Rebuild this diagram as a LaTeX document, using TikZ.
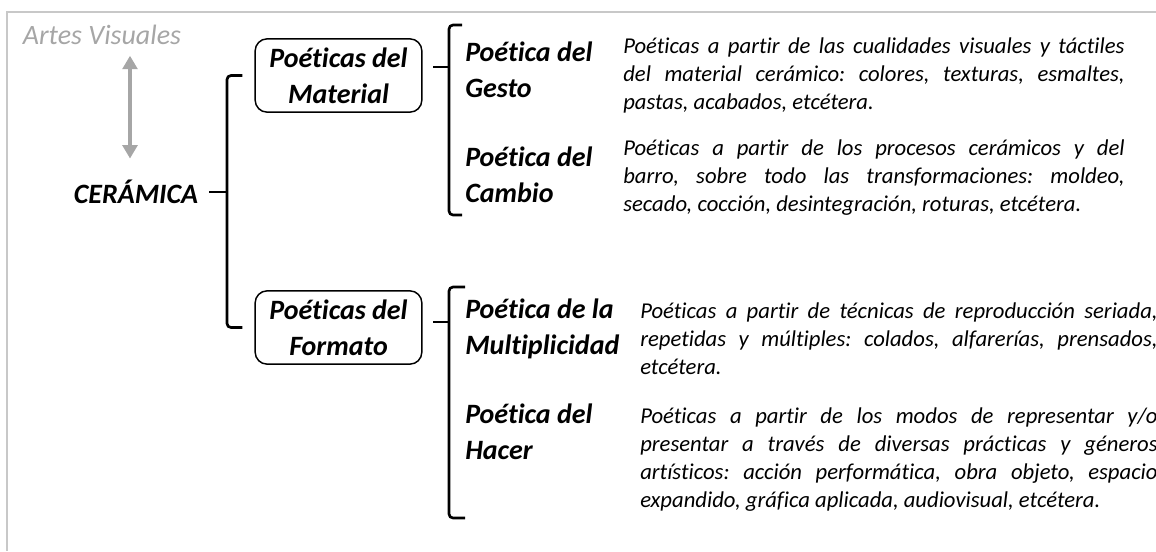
\documentclass[tikz,border=0pt]{standalone}
\usepackage{fontspec}
\setmainfont{Carlito}[Ligatures=NoCommon]
\usepackage{tikz}
\usetikzlibrary{arrows.meta,positioning,calc}

\definecolor{framegray}{HTML}{C8C8C8}
\definecolor{artgray}{HTML}{A6A6A6}
\frenchspacing

\begin{document}
\begin{tikzpicture}[
    x=0.75pt, y=-0.75pt,
    big/.style={font=\fontsize{21}{27}\selectfont\bfseries\itshape},
    cat/.style={big, draw, rounded corners=9pt, line width=1.1pt, align=center, minimum width=125pt, minimum height=55pt, inner sep=0pt},
    tit/.style={big, align=left, anchor=west, inner sep=0pt},
    desc/.style={font=\fontsize{17}{21}\selectfont\itshape, align=justify, anchor=west, inner sep=0pt},
    brk/.style={line width=2pt, rounded corners=3pt},
    dbl/.style={{Triangle[length=10pt,width=11pt]}-{Triangle[length=10pt,width=11pt]}, draw=artgray, fill=artgray, line width=2.5pt}
]
\useasboundingbox (0,0) rectangle (1156,551);
\draw[framegray, line width=1.5pt] (1156,12) -- (7,12) -- (7,551);

\node[inner sep=0pt, text=artgray, font=\fontsize{21}{27}\selectfont\itshape] (art) at (102,35) {Artes Visuales};
\node[big, inner sep=0pt] (cer) at (136,192) {CERÁMICA};

\node[cat] (mat) at (338.5,75.5) {Poéticas del\\Material};
\node[cat] (for) at (338.5,327.5) {Poéticas del\\Formato};

\node[tit] (ges) at (465,70) {Poética del\\Gesto};
\node[tit] (cam) at (465,175) {Poética del\\Cambio};
\node[tit] (mul) at (465,329) {Poética de la\\Multiplicidad};
\node[tit] (hac) at (465,432) {Poética del\\Hacer};

\node[desc, text width=376pt] (dges) at (623,75) {Poéticas a partir de las cualidades visuales y táctiles\linebreak del material cerámico: colores, texturas, esmaltes,\linebreak pastas, acabados, etcétera.};
\node[desc, text width=376pt] (dcam) at (623,178) {Poéticas a partir de los procesos cerámicos y del\linebreak barro, sobre todo las transformaciones: moldeo,\linebreak secado, cocción, desintegración, roturas, etcétera.};
\node[desc, text width=388pt] (dmul) at (640,339) {Poéticas a partir de técnicas de reproducción seriada,\linebreak repetidas y múltiples: colados, alfarerías, prensados,\linebreak etcétera.};
\node[desc, text width=388pt] (dhac) at (640,460) {Poéticas a partir de los modos de representar y/o\linebreak presentar a través de diversas prácticas y géneros\linebreak artísticos: acción performática, obra objeto, espacio\linebreak expandido, gráfica aplicada, audiovisual, etcétera.};

% brackets
\coordinate (lb) at (227,192);
\coordinate (rb1) at (449,67);
\coordinate (rb2) at (449,322);
\draw[brk] ([xshift=-9pt]mat.west) -| (lb) |- ([xshift=-9pt]for.west);
\draw[brk] ([xshift=8pt]cer.east) -- (lb);
\draw[brk] ([xshift=8pt]mat.east |- rb1) -- (rb1);
\draw[brk] (462,25) -| (rb1) |- (462,215);
\draw[brk] ([xshift=8pt]for.east |- rb2) -- (rb2);
\draw[brk] (465,287) -| (rb2) |- (465,518);

\draw[dbl] ([xshift=21pt, yshift=-8pt]art.south) -- ([xshift=-4.5pt, yshift=16pt]cer.north);
\end{tikzpicture}
\end{document}
